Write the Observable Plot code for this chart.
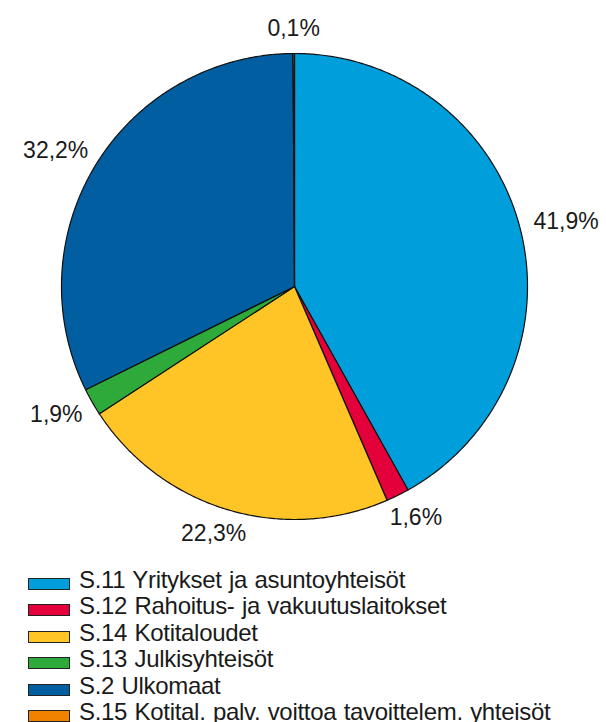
<!DOCTYPE html>
<html>
<head>
<meta charset="utf-8">
<script src="https://cdn.jsdelivr.net/npm/d3@7"></script>
<script src="https://cdn.jsdelivr.net/npm/@observablehq/plot@0.6"></script>
<style>
  body { margin: 0; background: #fff; font-family: "Liberation Sans", Arial, sans-serif; }
  #legend { margin-top: 7px; padding-left: 28px; font-size: 24px; letter-spacing: -0.3px; word-spacing: 1px; line-height: 26.4px; color: #1a1a1a; }
  .row { white-space: nowrap; }
  .sw { display: inline-block; width: 40px; height: 10px; border: 1px solid #222; vertical-align: -2px; margin-right: 9px; }
</style>
</head>
<body>
<div id="chart"></div>
<div id="legend"></div>
<script>
// Data (in drawing order, clockwise from 12 o'clock)
const categories = [
  "S.11 Yritykset ja asuntoyhteisöt",
  "S.12 Rahoitus- ja vakuutuslaitokset",
  "S.14 Kotitaloudet",
  "S.13 Julkisyhteisöt",
  "S.2 Ulkomaat",
  "S.15 Kotital. palv. voittoa tavoittelem. yhteisöt"
];
const shares = [41.9, 1.6, 22.3, 1.9, 32.2, 0.1];
const labels = ["41,9%", "1,6%", "22,3%", "1,9%", "32,2%", "0,1%"];
const colors = ["#009edb", "#e4003a", "#ffc425", "#2eaa3a", "#005ea1", "#f08200"];

const W = 606, H = 560;
const CX = 294, CY = 286, R = 233;
const total = d3.sum(shares);

// Build slice polygons (geometry sampled along each arc)
const polys = [];
const labelPts = [];
const ctx = document.createElement("canvas").getContext("2d");
ctx.font = "23px 'Liberation Sans', Arial, sans-serif";
let cum = 0;
shares.forEach((v, i) => {
  const a0 = cum / total * 2 * Math.PI;
  cum += v;
  const a1 = cum / total * 2 * Math.PI;
  polys.push({key: categories[i], x: 0, y: 0});
  const n = Math.max(2, Math.ceil((a1 - a0) / (Math.PI / 360)));
  for (let k = 0; k <= n; k++) {
    const a = a0 + (a1 - a0) * k / n;
    polys.push({key: categories[i], x: Math.sin(a), y: Math.cos(a)});
  }
  const am = (a0 + a1) / 2;
  const w = ctx.measureText(labels[i]).width;
  const rr = 248;
  labelPts.push({
    label: labels[i],
    x: Math.sin(am) * (rr + w / 2) / R,
    y: Math.cos(am) * (rr + 10) / R
  });
});

const plot = Plot.plot({
  width: W,
  height: H,
  x: {domain: [-1, 1], range: [CX - R, CX + R], axis: null},
  y: {domain: [-1, 1], range: [CY + R, CY - R], axis: null},
  color: {type: "ordinal", domain: categories, range: colors},
  style: {fontFamily: "'Liberation Sans', Arial, sans-serif", background: "#fff"},
  marks: [
    Plot.line(polys, {
      x: "x", y: "y", z: "key", fill: "key",
      stroke: "#111", strokeWidth: 1.2, curve: "linear-closed"
    }),
    Plot.text(labelPts, {
      x: "x", y: "y", text: "label",
      fontSize: 23, fill: "#1a1a1a", textAnchor: "middle", lineAnchor: "middle"
    })
  ]
});
document.getElementById("chart").appendChild(plot);

// Legend
const legend = d3.select("#legend");
categories.forEach((c, i) => {
  const row = legend.append("div").attr("class", "row");
  row.append("span").attr("class", "sw").style("background", colors[i]);
  row.append("span").text(c);
});
</script>
</body>
</html>
